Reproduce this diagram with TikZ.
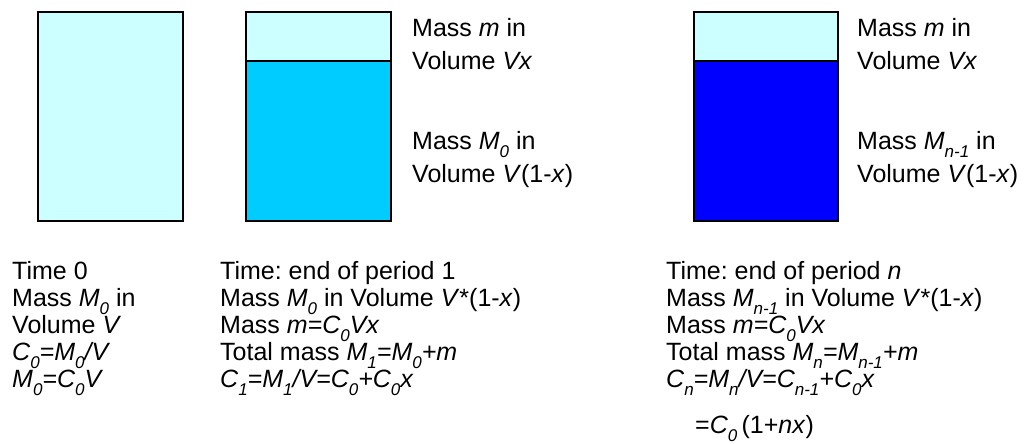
\documentclass[tikz,border=0pt]{standalone}
\usepackage{fontspec}
\setmainfont{Liberation Sans}
\frenchspacing
\definecolor{paleaqua}{HTML}{CCFFFF}
\definecolor{skyaqua}{HTML}{00CCFF}
\definecolor{deepblue}{HTML}{0000FF}
\newcommand{\sbs}[1]{\raisebox{-0.32em}{\fontsize{17}{17}\selectfont\itshape #1}}
\tikzset{
  tank/.style={draw=black, line width=1.5pt},
  lbl/.style={anchor=base west, align=left, inner sep=0pt,
    font=\fontsize{25}{33}\selectfont},
  info/.style={anchor=base west, align=left, inner sep=0pt,
    font=\fontsize{25}{27}\selectfont}
}
\begin{document}
\begin{tikzpicture}[x=1pt,y=-1pt]
\useasboundingbox (0,0) rectangle (1026,444);
% tanks
\draw[tank, fill=paleaqua] (38,12) rectangle (183,221);
\draw[tank, fill=skyaqua] (246,61) rectangle (391,221);
\draw[tank, fill=paleaqua] (246,12) rectangle (391,61);
\draw[tank, fill=deepblue] (694,61) rectangle (838,221);
\draw[tank, fill=paleaqua] (694,12) rectangle (838,61);
% labels beside the tanks (placed at the baseline of their last line)
\node[lbl] (addone) at (412,70) {Mass \textit{m} in\\Volume \textit{Vx}};
\node[lbl] (oldone) at (412,182) {Mass \textit{M}\sbs{0} in\\Volume \textit{V}(1-\textit{x})};
\node[lbl] (addn) at (857,70) {Mass \textit{m} in\\Volume \textit{Vx}};
\node[lbl] (oldn) at (857,182) {Mass \textit{M}\sbs{n-1} in\\Volume \textit{V}(1-\textit{x})};
% text under the tanks
\node[info] (start) at (12,387) {Time 0\\
  Mass \textit{M}\sbs{0} in\\
  Volume \textit{V}\\
  \textit{C\sbs{0}=M\sbs{0}/V}\\
  \textit{M\sbs{0}=C\sbs{0}V}};
\node[info] (first) at (220,387) {Time: end of period 1\\
  Mass \textit{M}\sbs{0} in Volume \textit{V}*(1-\textit{x})\\
  Mass \textit{m=C\sbs{0}Vx}\\
  Total mass \textit{M\sbs{1}=M\sbs{0}+m}\\
  \textit{C\sbs{1}=M\sbs{1}/V=C\sbs{0}+C\sbs{0}x}};
\node[info] (last) at (666,387) {Time: end of period \textit{n}\\
  Mass \textit{M}\sbs{n-1} in Volume \textit{V}*(1-\textit{x})\\
  Mass \textit{m=C\sbs{0}Vx}\\
  Total mass \textit{M\sbs{n}=M\sbs{n-1}+m}\\
  \textit{C\sbs{n}=M\sbs{n}/V=C\sbs{n-1}+C\sbs{0}x}};
\node[info] (closed) at (695,433) {=\textit{C}\sbs{0}\,(1+\textit{nx})};
\end{tikzpicture}
\end{document}
